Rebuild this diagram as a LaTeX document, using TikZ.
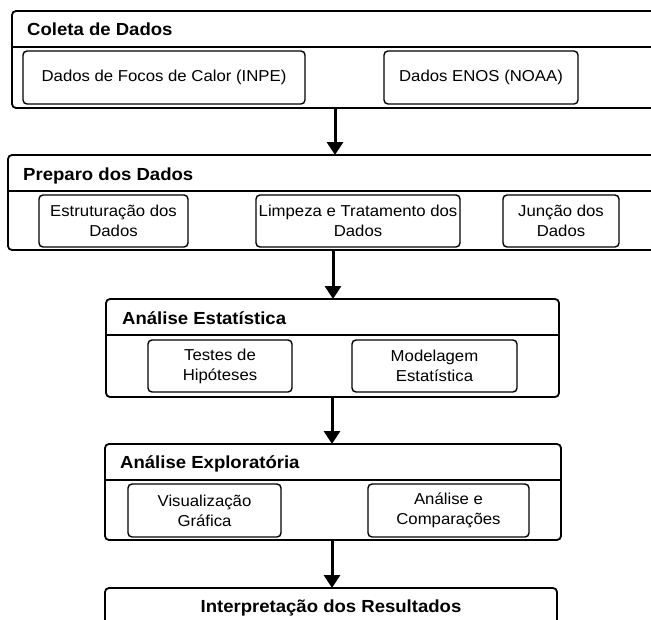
\documentclass[tikz,border=0pt]{standalone}
\usepackage{fontspec}
\setmainfont{Liberation Sans}[FakeStretch=1.06]
\usetikzlibrary{arrows.meta}
\tikzset{
  outerbox/.style={draw=black, line width=1.8pt, rounded corners=4pt, fill=white,
    rectangle, inner sep=0pt, outer sep=0pt, anchor=north west},
  innerbox/.style={draw=black, line width=1.4pt, rounded corners=4pt, fill=white,
    rectangle, inner sep=0pt, outer sep=0pt, anchor=center, align=center,
    font=\fontsize{15.8}{20}\selectfont},
  headline/.style={line width=1.8pt},
  titletext/.style={font=\bfseries\fontsize{17.5}{20}\selectfont, inner sep=0pt, anchor=base west},
  flow/.style={line width=3pt, -{Triangle[width=16pt,length=13pt]}}
}
\begin{document}
\begin{tikzpicture}[x=1pt,y=-1pt]
\useasboundingbox (0,0) rectangle (651,619);
\clip (0,0) rectangle (651,619);

% Box 1
\node[outerbox, minimum width=700pt, minimum height=97pt] (b1) at (12,11) {};
\draw[headline] ([yshift=-36pt]b1.north west) -- ([yshift=-36pt]b1.north east);
\node[titletext] (t1) at (27,35) {Coleta de Dados};
\node[innerbox, minimum width=282pt, minimum height=53pt] (i11) at (164,77.5) {Dados de Focos de Calor (INPE)};
\node[innerbox, minimum width=194pt, minimum height=53pt] (i12) at (481,77.5) {Dados ENOS (NOAA)};

% Box 2
\node[outerbox, minimum width=700pt, minimum height=95pt] (b2) at (8,155) {};
\draw[headline] ([yshift=-36pt]b2.north west) -- ([yshift=-36pt]b2.north east);
\node[titletext] (t2) at (23,180) {Preparo dos Dados};
\node[innerbox, minimum width=149pt, minimum height=52pt] (i21) at (113.5,221) {Estruturação dos\\Dados};
\node[innerbox, minimum width=204pt, minimum height=52pt] (i22) at (358,221) {Limpeza e Tratamento dos\\Dados};
\node[innerbox, minimum width=116pt, minimum height=52pt] (i23) at (561,221) {Junção dos\\Dados};

% Box 3
\node[outerbox, minimum width=453pt, minimum height=98pt] (b3) at (106,299) {};
\draw[headline] ([yshift=-36pt]b3.north west) -- ([yshift=-36pt]b3.north east);
\node[titletext] (t3) at (122,324) {Análise Estatística};
\node[innerbox, minimum width=144pt, minimum height=52pt] (i31) at (220,366) {Testes de\\Hipóteses};
\node[innerbox, minimum width=165pt, minimum height=52pt] (i32) at (434.5,366) {Modelagem\\Estatística};

% Box 4
\node[outerbox, minimum width=456pt, minimum height=96pt] (b4) at (105,444) {};
\draw[headline] ([yshift=-36pt]b4.north west) -- ([yshift=-36pt]b4.north east);
\node[titletext] (t4) at (120,468) {Análise Exploratória};
\node[innerbox, minimum width=153pt, minimum height=53pt] (i41) at (204.5,510.5) {Visualização\\Gráfica};
\node[innerbox, minimum width=161pt, minimum height=53pt] (i42) at (448.5,510.5) {Análise e\\Comparações};

% Box 5
\node[outerbox, minimum width=452pt, minimum height=100pt] (b5) at (105,588) {};
\node[titletext, anchor=base] (t5) at (331,612) {Interpretação dos Resultados};

% Arrows
\coordinate (x1) at (335,0);
\coordinate (x2) at (333,0);
\coordinate (x3) at (332,0);
\draw[flow] (b1.south -| x1) -- (b2.north -| x1);
\draw[flow] (b2.south -| x2) -- (b3.north -| x2);
\draw[flow] (b3.south -| x3) -- (b4.north -| x3);
\draw[flow] (b4.south -| x3) -- (b5.north -| x3);
\end{tikzpicture}
\end{document}
